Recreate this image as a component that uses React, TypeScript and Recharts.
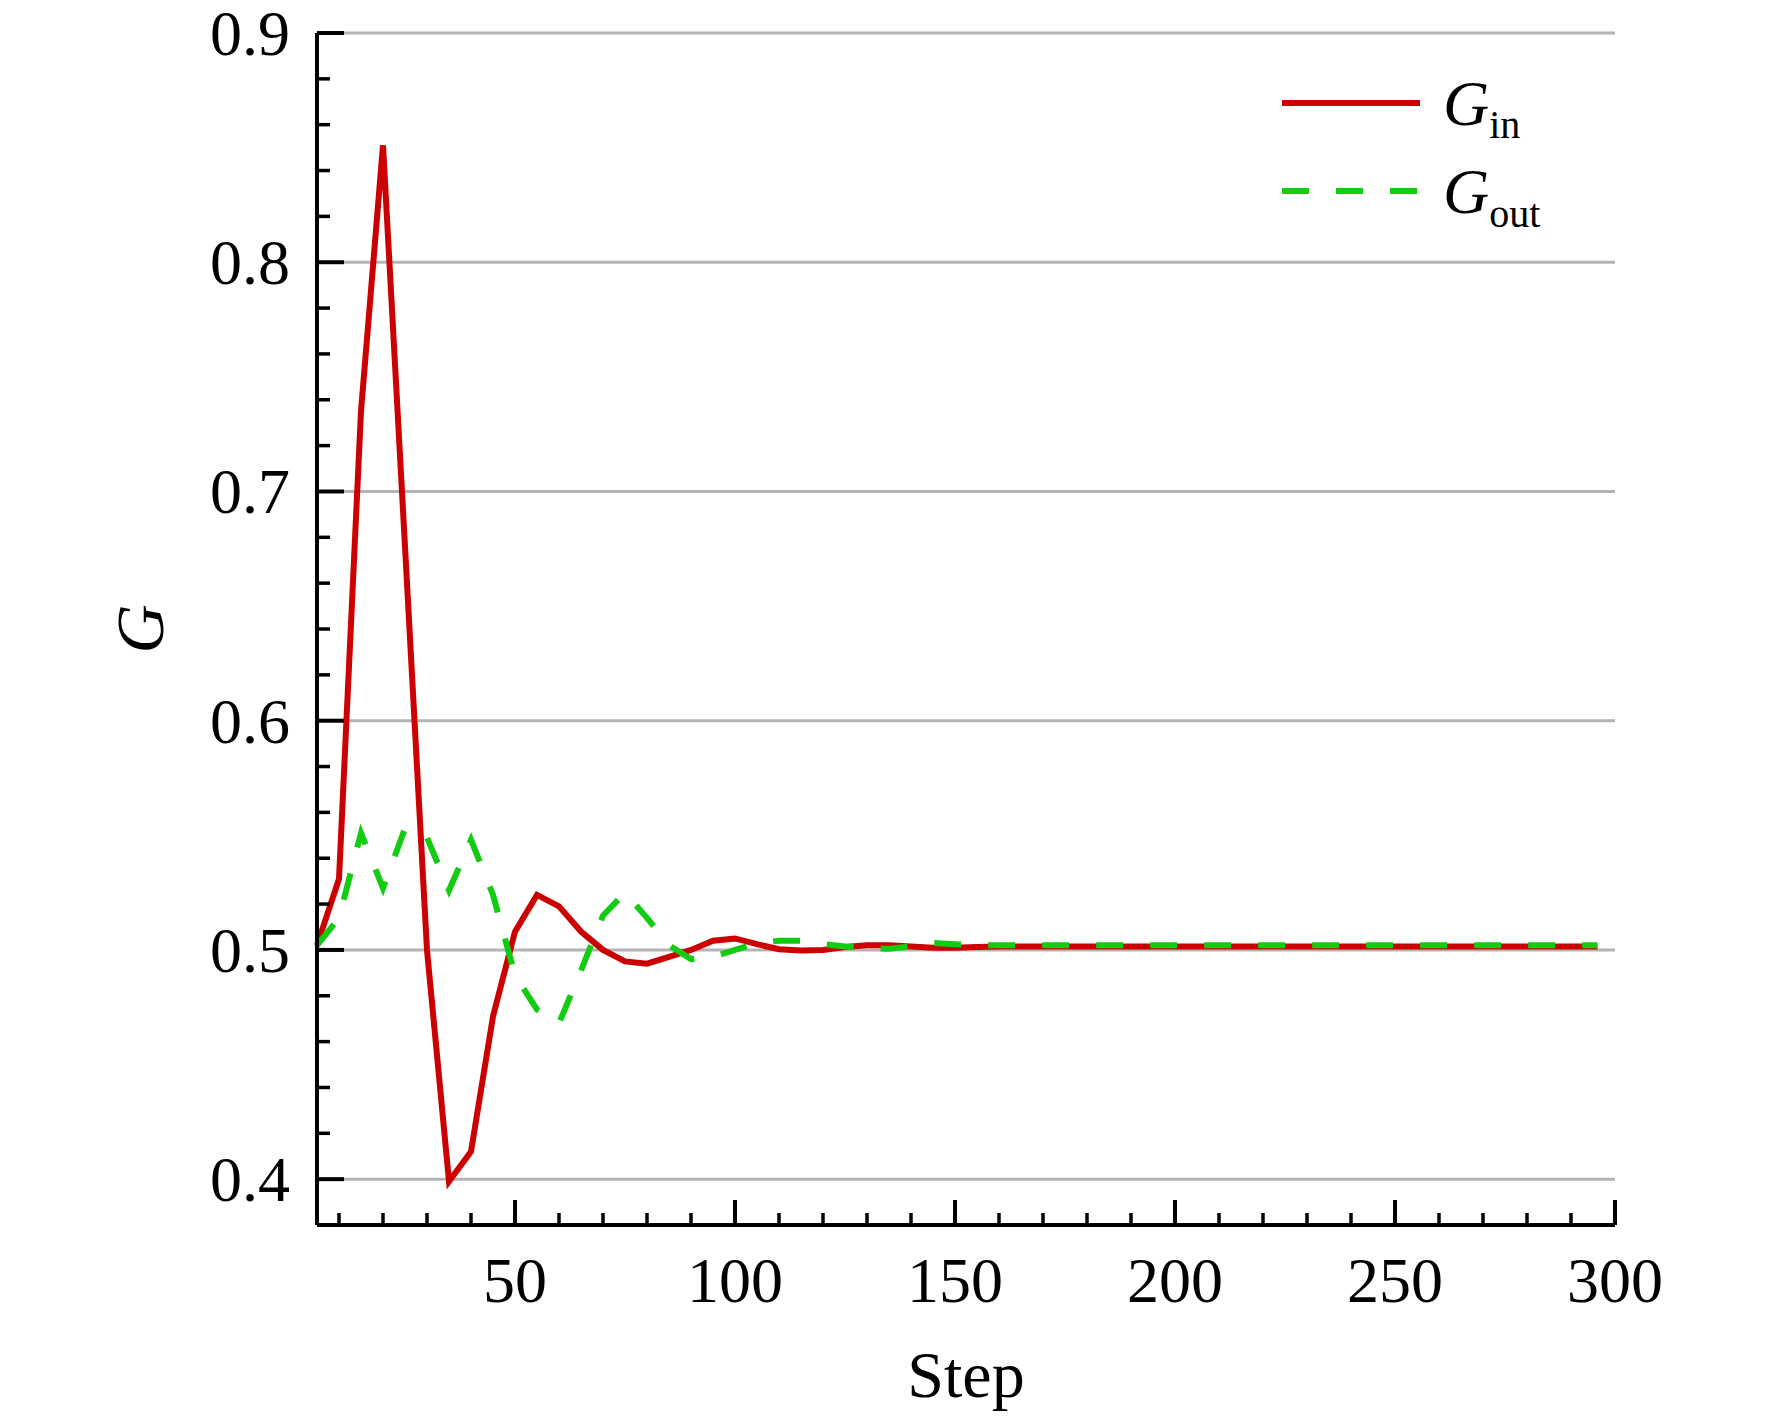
import React from 'react';
import { LineChart, Line, XAxis, YAxis, ReferenceLine, Legend } from 'recharts';

const steps = [5, 10, 15, 20, 25, 30, 35, 40, 45, 50, 55, 60, 65, 70, 75, 80, 85, 90, 95, 100, 105, 110, 115, 120, 125, 130, 135, 140, 145, 150, 155, 160, 180, 200, 220, 240, 260, 280, 296];
const ginValues = [0.502, 0.531, 0.735, 0.851, 0.676, 0.5, 0.399, 0.412, 0.471, 0.508, 0.524, 0.519, 0.508, 0.5, 0.495, 0.494, 0.497, 0.5, 0.504, 0.505, 0.5025, 0.5003, 0.4998, 0.5, 0.5013, 0.502, 0.502, 0.5015, 0.501, 0.501, 0.5013, 0.5015, 0.5015, 0.5015, 0.5015, 0.5015, 0.5015, 0.5015, 0.5015];
const goutValues = [0.502, 0.514, 0.551, 0.527, 0.553, 0.549, 0.526, 0.548, 0.524, 0.489, 0.474, 0.468, 0.491, 0.515, 0.525, 0.514, 0.502, 0.496, 0.497, 0.5, 0.503, 0.504, 0.504, 0.5025, 0.5015, 0.5008, 0.5005, 0.5015, 0.503, 0.5025, 0.502, 0.502, 0.502, 0.502, 0.502, 0.502, 0.502, 0.502, 0.502];

const xTicks = [10, 20, 30, 40, 50, 60, 70, 80, 90, 100, 110, 120, 130, 140, 150, 160, 170, 180, 190, 200, 210, 220, 230, 240, 250, 260, 270, 280, 290, 300];
const yTicks = [0.38, 0.4, 0.42, 0.44, 0.46, 0.48, 0.5, 0.52, 0.54, 0.56, 0.58, 0.6, 0.62, 0.64, 0.66, 0.68, 0.7, 0.72, 0.74, 0.76, 0.78, 0.8, 0.82, 0.84, 0.86, 0.88, 0.9];
const yMajor = [0.4, 0.5, 0.6, 0.7, 0.8, 0.9];

const data = steps.map((s, i) => ({ step: s, gin: ginValues[i], gout: goutValues[i] }));

const FONT = '"Liberation Serif", "Times New Roman", serif';
const RED = '#cc0000';
const GREEN = '#11cc11';

const XTick = (props: any) => {
  const { x, y, payload } = props;
  const major = payload.value % 50 === 0;
  return (
    <g>
      <line x1={x} x2={x} y1={y} y2={y - (major ? 25 : 12)} stroke="#000" strokeWidth={major ? 4 : 3.5} />
      {major && (
        <text x={x} y={y + 77} textAnchor="middle" fontFamily={FONT} fontSize={64} fill="#000">
          {payload.value}
        </text>
      )}
    </g>
  );
};

const YTick = (props: any) => {
  const { x, y, payload } = props;
  const major = Math.round(payload.value * 100) % 10 === 0;
  return (
    <g>
      <line x1={x} x2={x + (major ? 27 : 13)} y1={y} y2={y} stroke="#000" strokeWidth={major ? 4 : 3.5} />
      {major && (
        <text x={x - 27} y={y + 22} textAnchor="end" fontFamily={FONT} fontSize={64} fill="#000">
          {payload.value.toFixed(1)}
        </text>
      )}
    </g>
  );
};

const XLabel = (props: any) => {
  const vb = props.viewBox || {};
  return (
    <text x={vb.x + vb.width / 2} y={vb.y + 172} textAnchor="middle" fontFamily={FONT} fontSize={66} fill="#000">
      Step
    </text>
  );
};

const YLabel = (props: any) => {
  const vb = props.viewBox || {};
  const cx = (vb.x || 0) + 163;
  const cy = vb.y + vb.height / 2;
  return (
    <text x={cx} y={cy} transform={`rotate(-90 ${cx} ${cy})`} textAnchor="middle" fontFamily={FONT} fontSize={68} fontStyle="italic" fill="#000">
      G
    </text>
  );
};

const LegendContent = () => (
  <svg width={1772} height={260} style={{ position: 'absolute', left: 0, top: 0, pointerEvents: 'none' }}>
    <line x1={1282} x2={1420} y1={103} y2={103} stroke={RED} strokeWidth={6} />
    <text x={1443} y={125} fontFamily={FONT} fontSize={64} fill="#000">
      <tspan fontStyle="italic">G</tspan>
      <tspan fontSize={40} dy={13}>in</tspan>
    </text>
    <line x1={1282} x2={1420} y1={191} y2={191} stroke={GREEN} strokeWidth={6} strokeDasharray="27 27" />
    <text x={1443} y={213} fontFamily={FONT} fontSize={64} fill="#000">
      <tspan fontStyle="italic">G</tspan>
      <tspan fontSize={40} dy={14}>out</tspan>
    </text>
  </svg>
);

export default function App() {
  return (
    <div style={{ position: 'absolute', left: 0, top: 0, width: 1772, height: 1417, background: '#fff' }}>
      <LineChart width={1772} height={1417} data={data} margin={{ top: 33, right: 157, bottom: 0, left: 0 }}>
        {yMajor.map((v) => (
          <ReferenceLine key={v} y={v} stroke="#b4b4b4" strokeWidth={3} />
        ))}
        <XAxis
          type="number"
          dataKey="step"
          domain={[5, 300]}
          ticks={xTicks}
          interval={0}
          height={192}
          tickSize={0}
          tickMargin={0}
          tickLine={false}
          tick={<XTick />}
          axisLine={{ stroke: '#000', strokeWidth: 4 }}
          label={<XLabel />}
        />
        <YAxis
          type="number"
          domain={[0.38, 0.9]}
          ticks={yTicks}
          interval={0}
          width={317}
          tickSize={0}
          tickMargin={0}
          tickLine={false}
          tick={<YTick />}
          axisLine={{ stroke: '#000', strokeWidth: 4 }}
          label={<YLabel />}
        />
        <Legend layout="horizontal" verticalAlign="middle" align="center" wrapperStyle={{ position: 'absolute', left: 0, top: 0, width: 1772, height: 260 }} content={<LegendContent />} />
        <Line type="linear" dataKey="gin" name="Gin" stroke={RED} strokeWidth={6} dot={false} isAnimationActive={false} />
        <Line type="linear" dataKey="gout" name="Gout" stroke={GREEN} strokeWidth={6} strokeDasharray="27 27" dot={false} isAnimationActive={false} />
      </LineChart>
    </div>
  );
}
